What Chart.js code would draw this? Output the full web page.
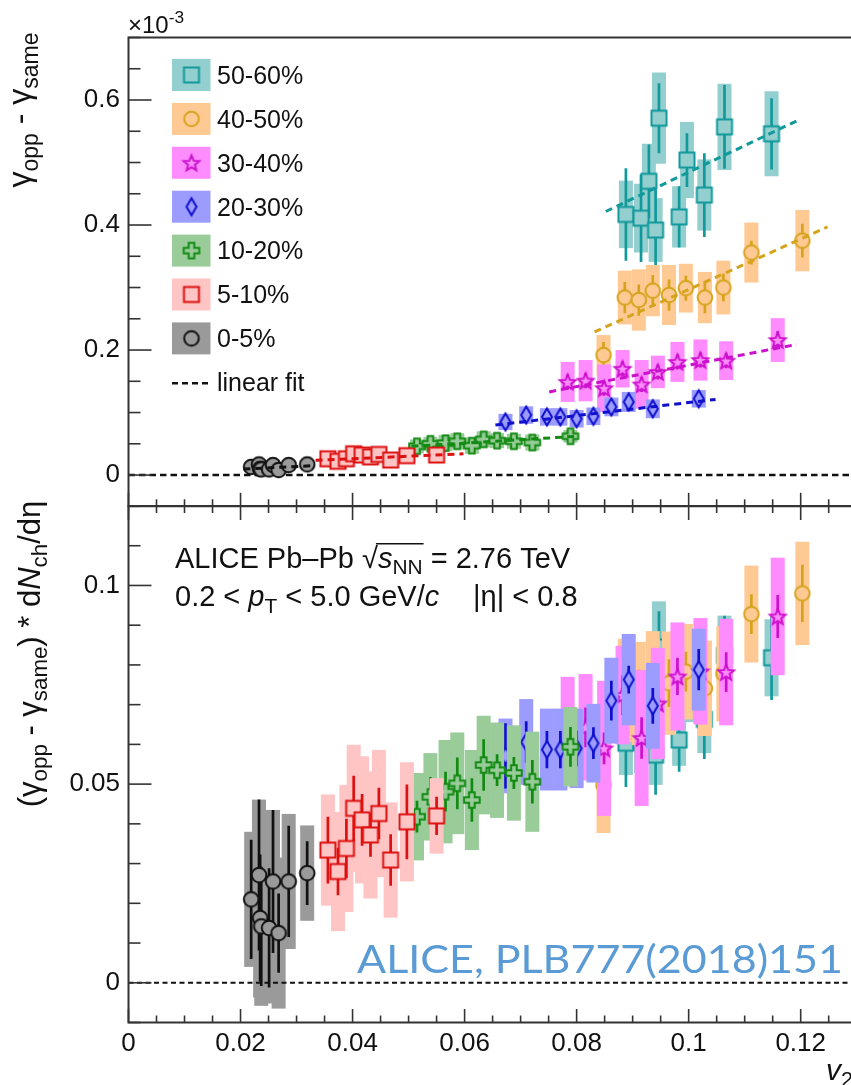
<!DOCTYPE html>
<html><head><meta charset="utf-8">
<script src="https://cdn.jsdelivr.net/npm/chart.js@4.4.1/dist/chart.umd.min.js"></script>
<style>
html,body{margin:0;padding:0;background:#fff;overflow:hidden;width:851px;height:1085px;}
#wrap{position:relative;width:851px;height:1085px;overflow:hidden;background:#fff;}
canvas{position:absolute;left:0;}
#cTop{top:0;}
#cBot{top:490px;}
</style></head><body>
<div id="wrap"><canvas id="cTop" width="880" height="522"></canvas><canvas id="cBot" width="880" height="595"></canvas></div>
<script>
// ---------------- DATA ----------------
const centralities = ['50-60%','40-50%','30-40%','20-30%','10-20%','5-10%','0-5%'];

// 0-5%
const v2_0_5      = [0.0219, 0.0233, 0.0235, 0.0237, 0.0251, 0.0258, 0.0268, 0.0286, 0.0319];
const top_0_5     = [0.013, 0.017, 0.010, 0.009, 0.009, 0.016, 0.008, 0.016, 0.017];
const topStat_0_5 = [0.004, 0.004, 0.004, 0.004, 0.004, 0.004, 0.004, 0.004, 0.003];
const topSys_0_5  = [0.008, 0.008, 0.008, 0.008, 0.008, 0.008, 0.008, 0.008, 0.007];
const bot_0_5     = [0.0210, 0.0271, 0.0163, 0.0142, 0.0138, 0.0255, 0.0125, 0.0255, 0.0276];
const botStat_0_5 = [0.015, 0.019, 0.016, 0.015, 0.015, 0.018, 0.010, 0.014, 0.008];
const botSys_0_5  = [0.017, 0.019, 0.020, 0.020, 0.019, 0.018, 0.019, 0.017, 0.012];
const fit_0_5     = [[0.0205, 0.0095], [0.0330, 0.0150]];

// 5-10%
const v2_5_10      = [0.0356, 0.0374, 0.0389, 0.0402, 0.0417, 0.0432, 0.0447, 0.0468, 0.0497, 0.0550];
const top_5_10     = [0.026, 0.022, 0.026, 0.034, 0.032, 0.029, 0.033, 0.024, 0.031, 0.032];
const topStat_5_10 = [0.006, 0.006, 0.006, 0.006, 0.006, 0.006, 0.006, 0.006, 0.007, 0.005];
const topSys_5_10  = [0.011, 0.011, 0.012, 0.012, 0.012, 0.012, 0.012, 0.011, 0.012, 0.008];
const bot_5_10     = [0.0334, 0.0280, 0.0338, 0.0439, 0.0410, 0.0372, 0.0426, 0.0309, 0.0405, 0.0420];
const botStat_5_10 = [0.0084, 0.0060, 0.0075, 0.0082, 0.0065, 0.0055, 0.0065, 0.0065, 0.0094, 0.0048];
const botSys_5_10  = [0.0140, 0.0150, 0.0160, 0.0160, 0.0160, 0.0160, 0.0160, 0.0145, 0.0150, 0.0095];
const fit_5_10     = [[0.0334, 0.0235], [0.0598, 0.0340]];

// 10-20%
const v2_10_20      = [0.0515, 0.0539, 0.0566, 0.0587, 0.0613, 0.0634, 0.0658, 0.0688, 0.0721, 0.0789];
const top_10_20     = [0.046, 0.050, 0.051, 0.054, 0.047, 0.057, 0.055, 0.054, 0.052, 0.062];
const topStat_10_20 = [0.007, 0.007, 0.007, 0.008, 0.007, 0.008, 0.006, 0.006, 0.007, 0.007];
const topSys_10_20  = [0.011, 0.011, 0.013, 0.013, 0.013, 0.013, 0.012, 0.012, 0.013, 0.010];
const bot_10_20     = [0.0418, 0.0468, 0.0481, 0.0502, 0.0460, 0.0548, 0.0535, 0.0528, 0.0506, 0.0594];
const botStat_10_20 = [0.0040, 0.0050, 0.0050, 0.0065, 0.0055, 0.0065, 0.0040, 0.0040, 0.0055, 0.0050];
const botSys_10_20  = [0.0110, 0.0110, 0.0130, 0.0128, 0.0126, 0.0124, 0.0120, 0.0120, 0.0126, 0.0100];
const fit_10_20     = [[0.0505, 0.046], [0.0800, 0.062]];

// 20-30%
const v2_20_30      = [0.0673, 0.0710, 0.0747, 0.0771, 0.0800, 0.0830, 0.0862, 0.0893, 0.0936, 0.1018];
const top_20_30     = [0.085, 0.096, 0.093, 0.093, 0.090, 0.094, 0.109, 0.117, 0.106, 0.122];
const topStat_20_30 = [0.010, 0.008, 0.007, 0.007, 0.007, 0.007, 0.008, 0.006, 0.007, 0.008];
const topSys_20_30  = [0.013, 0.014, 0.014, 0.014, 0.014, 0.014, 0.015, 0.016, 0.015, 0.014];
const bot_20_30     = [0.0571, 0.0606, 0.0587, 0.0587, 0.0590, 0.0603, 0.0710, 0.0763, 0.0697, 0.0788];
const botStat_20_30 = [0.0082, 0.0052, 0.0047, 0.0047, 0.0045, 0.0040, 0.0050, 0.0035, 0.0045, 0.0052];
const botSys_20_30  = [0.0094, 0.0108, 0.0103, 0.0103, 0.0100, 0.0099, 0.0108, 0.0115, 0.0108, 0.0103];
const fit_20_30     = [[0.0655, 0.080], [0.1048, 0.121]];

// 30-40%
const v2_30_40      = [0.0784, 0.0816, 0.0849, 0.0882, 0.0916, 0.0945, 0.0980, 0.1021, 0.1067, 0.1159];
const top_30_40     = [0.149, 0.151, 0.139, 0.170, 0.145, 0.165, 0.181, 0.184, 0.183, 0.216];
const topStat_30_40 = [0.012, 0.012, 0.012, 0.012, 0.012, 0.012, 0.012, 0.012, 0.012, 0.014];
const topSys_30_40  = [0.032, 0.033, 0.038, 0.030, 0.039, 0.026, 0.032, 0.033, 0.031, 0.035];
const bot_30_40     = [0.0635, 0.0643, 0.0590, 0.0724, 0.0616, 0.0703, 0.0771, 0.0784, 0.0782, 0.0922];
const botStat_30_40 = [0.0050, 0.0050, 0.0040, 0.0050, 0.0052, 0.0050, 0.0047, 0.0050, 0.0050, 0.0054];
const botSys_30_40  = [0.0135, 0.0134, 0.0170, 0.0124, 0.0171, 0.0140, 0.0136, 0.0134, 0.0134, 0.0148];
const fit_30_40     = [[0.0751, 0.133], [0.1193, 0.209]];

// 40-50%
const v2_40_50      = [0.0848, 0.0886, 0.0911, 0.0936, 0.0965, 0.0995, 0.1029, 0.1062, 0.1112, 0.1203];
const top_40_50     = [0.192, 0.284, 0.280, 0.295, 0.288, 0.299, 0.284, 0.300, 0.356, 0.375];
const topStat_40_50 = [0.021, 0.025, 0.025, 0.025, 0.025, 0.020, 0.025, 0.022, 0.019, 0.027];
const topSys_40_50  = [0.032, 0.043, 0.049, 0.041, 0.048, 0.039, 0.041, 0.043, 0.048, 0.049];
const bot_40_50     = [0.0497, 0.0736, 0.0728, 0.0765, 0.0754, 0.0783, 0.0741, 0.0778, 0.0928, 0.0980];
const botStat_40_50 = [0.0050, 0.0060, 0.0060, 0.0060, 0.0060, 0.0050, 0.0060, 0.0050, 0.0050, 0.0072];
const botSys_40_50  = [0.0120, 0.0130, 0.0130, 0.0120, 0.0130, 0.0120, 0.0120, 0.0120, 0.0122, 0.0130];
const fit_40_50     = [[0.0832, 0.229], [0.1248, 0.397]];

// 50-60%
const v2_50_60      = [0.0888, 0.0915, 0.0929, 0.0941, 0.0947, 0.0983, 0.0997, 0.1028, 0.1064, 0.1148];
const top_50_60     = [0.417, 0.411, 0.470, 0.392, 0.571, 0.413, 0.504, 0.448, 0.557, 0.546];
const topStat_50_60 = [0.074, 0.070, 0.059, 0.065, 0.056, 0.049, 0.043, 0.067, 0.067, 0.057];
const topSys_50_60  = [0.054, 0.055, 0.060, 0.051, 0.073, 0.049, 0.061, 0.057, 0.069, 0.068];
const bot_50_60     = [0.0603, 0.0608, 0.0696, 0.0573, 0.0845, 0.0611, 0.0746, 0.0663, 0.0824, 0.0818];
const botStat_50_60 = [0.0110, 0.0100, 0.0090, 0.0100, 0.0090, 0.0080, 0.0070, 0.0100, 0.0100, 0.0106];
const botSys_50_60  = [0.0080, 0.0080, 0.0090, 0.0075, 0.0115, 0.0065, 0.0090, 0.0085, 0.0100, 0.0097];
const fit_50_60     = [[0.0852, 0.4216], [0.1200, 0.5696]];

// axes / ticks
const xTickValues   = [0, 0.02, 0.04, 0.06, 0.08, 0.1, 0.12];
const xTickLabels   = ['0', '0.02', '0.04', '0.06', '0.08', '0.1', '0.12'];
const yTopTickValues = [0, 0.2, 0.4, 0.6];
const yTopTickLabels = ['0', '0.2', '0.4', '0.6'];
const yBotTickValues = [0, 0.05, 0.1];
const yBotTickLabels = ['0', '0.05', '0.1'];

// ---------------- STYLE ----------------
const FONT = '"Liberation Sans", Arial, Helvetica, sans-serif';
const styles = {
  '50-60%': {shape: 'square',  line: '#11999b', box: '#94cfcf'},
  '40-50%': {shape: 'circle',  line: '#d6a41c', box: '#ffc994'},
  '30-40%': {shape: 'star',    line: '#cc11cc', box: '#ff8cff'},
  '20-30%': {shape: 'diamond', line: '#1010cc', box: '#9c9cff'},
  '10-20%': {shape: 'cross',   line: '#138a13', box: '#99cc99'},
  '5-10%':  {shape: 'square',  line: '#dd1111', box: '#ffc4c4'},
  '0-5%':   {shape: 'circle',  line: '#111111', box: '#9a9a9a'}
};
const BOX_HW = 7; // px half width of systematic boxes

function makeMarker(shape, stroke, fill) {
  const S = 24, c = document.createElement('canvas');
  c.width = S; c.height = S;
  const g = c.getContext('2d');
  g.translate(S / 2, S / 2);
  g.lineWidth = 2; g.strokeStyle = stroke; g.fillStyle = fill; g.lineJoin = 'miter';
  g.beginPath();
  if (shape === 'square') { g.rect(-7.5, -7.5, 15, 15); }
  else if (shape === 'circle') { g.arc(0, 0, 7.3, 0, Math.PI * 2); }
  else if (shape === 'star') {
    for (let k = 0; k < 10; k++) {
      const r = k % 2 ? 3.6 : 8.2, a = -Math.PI / 2 + k * Math.PI / 5;
      const px = r * Math.cos(a), py = r * Math.sin(a) + 0.8;
      k ? g.lineTo(px, py) : g.moveTo(px, py);
    }
    g.closePath();
  } else if (shape === 'diamond') {
    g.moveTo(0, -8.5); g.lineTo(5, 0); g.lineTo(0, 8.5); g.lineTo(-5, 0); g.closePath();
  } else if (shape === 'cross') {
    const a = 2.8, b = 7.8;
    g.moveTo(-a, -b); g.lineTo(a, -b); g.lineTo(a, -a); g.lineTo(b, -a); g.lineTo(b, a); g.lineTo(a, a);
    g.lineTo(a, b); g.lineTo(-a, b); g.lineTo(-a, a); g.lineTo(-b, a); g.lineTo(-b, -a); g.lineTo(-a, -a); g.closePath();
  }
  g.fill(); g.stroke();
  return c;
}
const markers = {};
centralities.forEach(c => { const s = styles[c]; markers[c] = makeMarker(s.shape, s.line, s.box); });

const seriesTable = [
  {c: '0-5%',   v2: v2_0_5,   top: top_0_5,   topStat: topStat_0_5,   topSys: topSys_0_5,   bot: bot_0_5,   botStat: botStat_0_5,   botSys: botSys_0_5,   fit: fit_0_5},
  {c: '5-10%',  v2: v2_5_10,  top: top_5_10,  topStat: topStat_5_10,  topSys: topSys_5_10,  bot: bot_5_10,  botStat: botStat_5_10,  botSys: botSys_5_10,  fit: fit_5_10},
  {c: '10-20%', v2: v2_10_20, top: top_10_20, topStat: topStat_10_20, topSys: topSys_10_20, bot: bot_10_20, botStat: botStat_10_20, botSys: botSys_10_20, fit: fit_10_20},
  {c: '20-30%', v2: v2_20_30, top: top_20_30, topStat: topStat_20_30, topSys: topSys_20_30, bot: bot_20_30, botStat: botStat_20_30, botSys: botSys_20_30, fit: fit_20_30},
  {c: '30-40%', v2: v2_30_40, top: top_30_40, topStat: topStat_30_40, topSys: topSys_30_40, bot: bot_30_40, botStat: botStat_30_40, botSys: botSys_30_40, fit: fit_30_40},
  {c: '40-50%', v2: v2_40_50, top: top_40_50, topStat: topStat_40_50, topSys: topSys_40_50, bot: bot_40_50, botStat: botStat_40_50, botSys: botSys_40_50, fit: fit_40_50},
  {c: '50-60%', v2: v2_50_60, top: top_50_60, topStat: topStat_50_60, topSys: topSys_50_60, bot: bot_50_60, botStat: botStat_50_60, botSys: botSys_50_60, fit: fit_50_60}
];

function buildDatasets(panel) {
  const ds = [];
  seriesTable.forEach(s => {
    const st = styles[s.c];
    const vals = panel === 'top' ? s.top : s.bot;
    ds.push({
      label: s.c,
      data: s.v2.map((x, i) => ({x: x, y: vals[i]})),
      errStat: panel === 'top' ? s.topStat : s.botStat,
      errSys: panel === 'top' ? s.topSys : s.botSys,
      boxColor: st.box, lineColor: st.line,
      pointStyle: markers[s.c], pointRadius: 8, pointHoverRadius: 8,
      showLine: false, order: 1
    });
  });
  if (panel === 'top') {
    seriesTable.forEach(s => {
      ds.push({
        label: s.c + ' fit',
        data: s.fit.map(p => ({x: p[0], y: p[1]})),
        showLine: true, pointRadius: 0, borderColor: styles[s.c].line,
        borderWidth: 3, borderDash: [7, 5], fill: false, order: 0
      });
    });
  }
  return ds;
}

// ---------------- PLUGINS ----------------
const errPlugin = {
  id: 'errPlugin',
  beforeDatasetDraw(chart, args) {
    const ds = chart.data.datasets[args.index];
    if (!ds.errSys) return;
    const ctx = chart.ctx, xs = chart.scales.x, ys = chart.scales.y, ca = chart.chartArea;
    ctx.save();
    ctx.beginPath(); ctx.rect(ca.left, ca.top, ca.right - ca.left, ca.bottom - ca.top); ctx.clip();
    ctx.fillStyle = ds.boxColor;
    ds.data.forEach((p, i) => {
      const cx = xs.getPixelForValue(p.x);
      const y1 = ys.getPixelForValue(p.y + ds.errSys[i]);
      const y2 = ys.getPixelForValue(p.y - ds.errSys[i]);
      ctx.fillRect(cx - BOX_HW, y1, 2 * BOX_HW, y2 - y1);
    });
    ctx.strokeStyle = ds.lineColor; ctx.lineWidth = 2.7;
    ds.data.forEach((p, i) => {
      const cx = xs.getPixelForValue(p.x);
      ctx.beginPath();
      ctx.moveTo(cx, ys.getPixelForValue(p.y + ds.errStat[i]));
      ctx.lineTo(cx, ys.getPixelForValue(p.y - ds.errStat[i]));
      ctx.stroke();
    });
    ctx.restore();
  }
};

function rich(ctx, x, y, parts, size, measureOnly) {
  let cx = x;
  for (const p of parts) {
    const s = (p.sub || p.sup) ? size * 0.72 : size;
    ctx.font = (p.i ? 'italic ' : '') + s.toFixed(1) + 'px ' + FONT;
    const dy = p.sub ? size * 0.24 : (p.sup ? -size * 0.42 : 0);
    if (!measureOnly) ctx.fillText(p.t, cx, y + dy);
    p._x0 = cx;
    cx += ctx.measureText(p.t).width;
    p._x1 = cx;
  }
  return cx - x;
}

function drawFrameAndTicks(chart, cfg) {
  const ctx = chart.ctx, xs = chart.scales.x, ys = chart.scales.y, ca = chart.chartArea;
  ctx.save();
  ctx.strokeStyle = '#333'; ctx.lineWidth = 1.6;
  for (let k = cfg.yKmin; k <= cfg.yKmax; k++) {
    const v = k * cfg.yMinor, py = ys.getPixelForValue(v);
    if (py < ca.top - 0.5 || py > ca.bottom + 0.5) continue;
    const len = (k % cfg.yMajorEvery === 0) ? 23 : 12;
    ctx.beginPath(); ctx.moveTo(ca.left, py); ctx.lineTo(ca.left + len, py); ctx.stroke();
  }
  for (let k = 0; k <= 26; k++) {
    const v = k * 0.005, pxx = xs.getPixelForValue(v);
    const major = (k % 4 === 0);
    ctx.beginPath(); ctx.moveTo(pxx, ca.bottom); ctx.lineTo(pxx, ca.bottom - (major ? 13.5 : 7)); ctx.stroke();
    if (cfg.topTicks) {
      ctx.beginPath(); ctx.moveTo(pxx, ca.top); ctx.lineTo(pxx, ca.top + (major ? 14 : 7)); ctx.stroke();
    }
  }
  ctx.lineWidth = 2; ctx.strokeStyle = '#333';
  ctx.beginPath();
  ctx.moveTo(chart.width, ca.top); ctx.lineTo(ca.left, ca.top); ctx.lineTo(ca.left, ca.bottom); ctx.lineTo(chart.width, ca.bottom);
  ctx.stroke();
  ctx.restore();
}

function zeroLine(chart, dash, width) {
  const ctx = chart.ctx, ys = chart.scales.y, ca = chart.chartArea;
  const py = ys.getPixelForValue(0);
  ctx.save();
  ctx.strokeStyle = '#111'; ctx.lineWidth = width; ctx.setLineDash(dash);
  ctx.beginPath(); ctx.moveTo(ca.left, py); ctx.lineTo(ca.right, py); ctx.stroke();
  ctx.restore();
}

const topDeco = {
  id: 'topDeco',
  beforeDatasetsDraw(chart) { zeroLine(chart, [6.5, 4], 2.6); },
  afterDraw(chart) {
    const ctx = chart.ctx;
    drawFrameAndTicks(chart, {yMinor: 0.05, yKmin: -1, yKmax: 14, yMajorEvery: 4, topTicks: false});
    ctx.save();
    ctx.fillStyle = '#111'; ctx.textBaseline = 'alphabetic'; ctx.textAlign = 'left';
    rich(ctx, 128, 33, [{t: '\u00d710'}, {t: '-3', sup: true}], 24);
    ctx.save();
    const parts = [{t: '\u03b3'}, {t: 'opp', sub: true}, {t: ' - \u03b3'}, {t: 'same', sub: true}];
    const w = rich(ctx, 0, 0, parts, 32, true);
    ctx.translate(30, 110); ctx.rotate(-Math.PI / 2);
    rich(ctx, -w / 2, 0, parts, 32);
    ctx.restore();
    const legOrder = ['50-60%', '40-50%', '30-40%', '20-30%', '10-20%', '5-10%', '0-5%'];
    legOrder.forEach((c, i) => {
      const yc = 76 + 43.9 * i;
      ctx.fillStyle = styles[c].box;
      ctx.fillRect(172, yc - 17, 38.5, 32);
      const m = markers[c];
      ctx.drawImage(m, 191.5 - m.width / 2, yc - 1 - m.height / 2);
      ctx.fillStyle = '#111'; ctx.font = '25px ' + FONT; ctx.textBaseline = 'middle';
      ctx.fillText(c, 217, yc + 1);
    });
    const yl = 76 + 43.9 * 7;
    ctx.strokeStyle = '#111'; ctx.lineWidth = 2.5; ctx.setLineDash([6, 4]);
    ctx.beginPath(); ctx.moveTo(172, yl); ctx.lineTo(211, yl); ctx.stroke();
    ctx.setLineDash([]);
    ctx.fillText('linear fit', 217, yl + 1);
    ctx.restore();
  }
};

const BOT_OFF = 490; // top offset of the lower canvas in the page
const botDeco = {
  id: 'botDeco',
  afterDatasetsDraw(chart) { zeroLine(chart, [5, 3.5], 2); },
  afterDraw(chart) {
    const ctx = chart.ctx;
    drawFrameAndTicks(chart, {yMinor: 0.01, yKmin: -1, yKmax: 12, yMajorEvery: 5, topTicks: true});
    ctx.save();
    ctx.fillStyle = '#111'; ctx.textBaseline = 'alphabetic'; ctx.textAlign = 'left';
    ctx.translate(0, -BOT_OFF); // page coordinates from here on
    ctx.save();
    const parts = [{t: '(\u03b3'}, {t: 'opp', sub: true}, {t: ' - \u03b3'}, {t: 'same', sub: true},
                   {t: ') * d'}, {t: 'N', i: true}, {t: 'ch', sub: true}, {t: '/d\u03b7'}];
    const w = rich(ctx, 0, 0, parts, 31, true);
    ctx.translate(40, 654); ctx.rotate(-Math.PI / 2);
    rich(ctx, -w / 2, 0, parts, 31);
    ctx.restore();
    const s = 29;
    const l1 = [{t: 'ALICE Pb\u2013Pb '}, {t: '\u221a'}, {t: 's', i: true}, {t: 'NN', sub: true}, {t: ' = 2.76 TeV'}];
    rich(ctx, 175, 567.5, l1, s);
    ctx.strokeStyle = '#111'; ctx.lineWidth = 1.6;
    ctx.beginPath();
    ctx.moveTo(l1[1]._x1 - 2, 567.5 - s * 0.82); ctx.lineTo(l1[3]._x1 + 1, 567.5 - s * 0.82); ctx.stroke();
    const l2 = [{t: '0.2 < '}, {t: 'p', i: true}, {t: 'T', sub: true}, {t: ' < 5.0 GeV/'}, {t: 'c', i: true}];
    rich(ctx, 175, 606, l2, s);
    rich(ctx, 473, 606, [{t: '|\u03b7| < 0.8'}], s);
    rich(ctx, 826, 1080, [{t: 'v', i: true}, {t: '2', sub: true}], 30);
    const ref = 'ALICE, PLB777(2018)151';
    ctx.font = '39px Lato, "Open Sans", sans-serif';
    const rw = ctx.measureText(ref).width;
    ctx.fillStyle = '#5b9bd5';
    ctx.translate(357, 973); ctx.scale(486 / rw, 1);
    ctx.fillText(ref, 0, 0);
    ctx.restore();
  }
};

function fmt(v) { return String(+v.toFixed(4)); }
function noPadY(s) { s.width = 128.5; s.paddingTop = 0; s.paddingBottom = 0; }
function fixX(h) { return s => { s.height = h; s.paddingLeft = 0; s.paddingRight = 0; }; }

// ---------------- CHARTS ----------------
Chart.defaults.font.family = FONT;
Chart.defaults.color = '#111';

// upper panel: chart area 37.5 .. 506.3 (page px)
new Chart(document.getElementById('cTop'), {
  type: 'scatter',
  data: {datasets: buildDatasets('top')},
  options: {
    responsive: false, animation: false, devicePixelRatio: 1,
    layout: {padding: {top: 37.5, right: 880 - 856.7, bottom: 0, left: 0}},
    plugins: {legend: {display: false}, tooltip: {enabled: false}},
    events: [],
    scales: {
      x: {type: 'linear', min: 0, max: 0.13, position: 'bottom',
          afterFit: fixX(522 - 506.3),
          ticks: {display: false}, grid: {display: false, drawTicks: false}, border: {display: false}},
      y: {
        type: 'linear', min: -0.05, max: 0.7, position: 'left',
        afterFit: noPadY,
        afterBuildTicks: s => { s.ticks = yTopTickValues.map(v => ({value: v})); },
        ticks: {font: {size: 26, family: FONT}, color: '#111', padding: 8.5,
                callback: (v) => yTopTickLabels[yTopTickValues.indexOf(+v.toFixed(4))] ?? fmt(v)},
        grid: {display: false, drawTicks: false}, border: {display: false}
      }
    }
  },
  plugins: [errPlugin, topDeco]
});

// lower panel: chart area 506 .. 1022.5 (page px)
new Chart(document.getElementById('cBot'), {
  type: 'scatter',
  data: {datasets: buildDatasets('bot')},
  options: {
    responsive: false, animation: false, devicePixelRatio: 1,
    layout: {padding: {top: 506 - BOT_OFF, right: 880 - 856.7, bottom: 0, left: 0}},
    plugins: {legend: {display: false}, tooltip: {enabled: false}},
    events: [],
    scales: {
      x: {
        type: 'linear', min: 0, max: 0.13, position: 'bottom',
        afterFit: fixX(BOT_OFF + 595 - 1022.5),
        afterBuildTicks: s => { s.ticks = xTickValues.map(v => ({value: v})); },
        ticks: {font: {size: 26, family: FONT}, color: '#111', padding: 6, autoSkip: false, maxRotation: 0,
                callback: (v) => xTickLabels[xTickValues.indexOf(+v.toFixed(4))] ?? fmt(v)},
        grid: {display: false, drawTicks: false}, border: {display: false}
      },
      y: {
        type: 'linear', min: -0.01, max: 0.12, position: 'left',
        afterFit: noPadY,
        afterBuildTicks: s => { s.ticks = yBotTickValues.map(v => ({value: v})); },
        ticks: {font: {size: 26, family: FONT}, color: '#111', padding: 8.5,
                callback: (v) => yBotTickLabels[yBotTickValues.indexOf(+v.toFixed(4))] ?? fmt(v)},
        grid: {display: false, drawTicks: false}, border: {display: false}
      }
    }
  },
  plugins: [errPlugin, botDeco]
});
</script></body></html>
